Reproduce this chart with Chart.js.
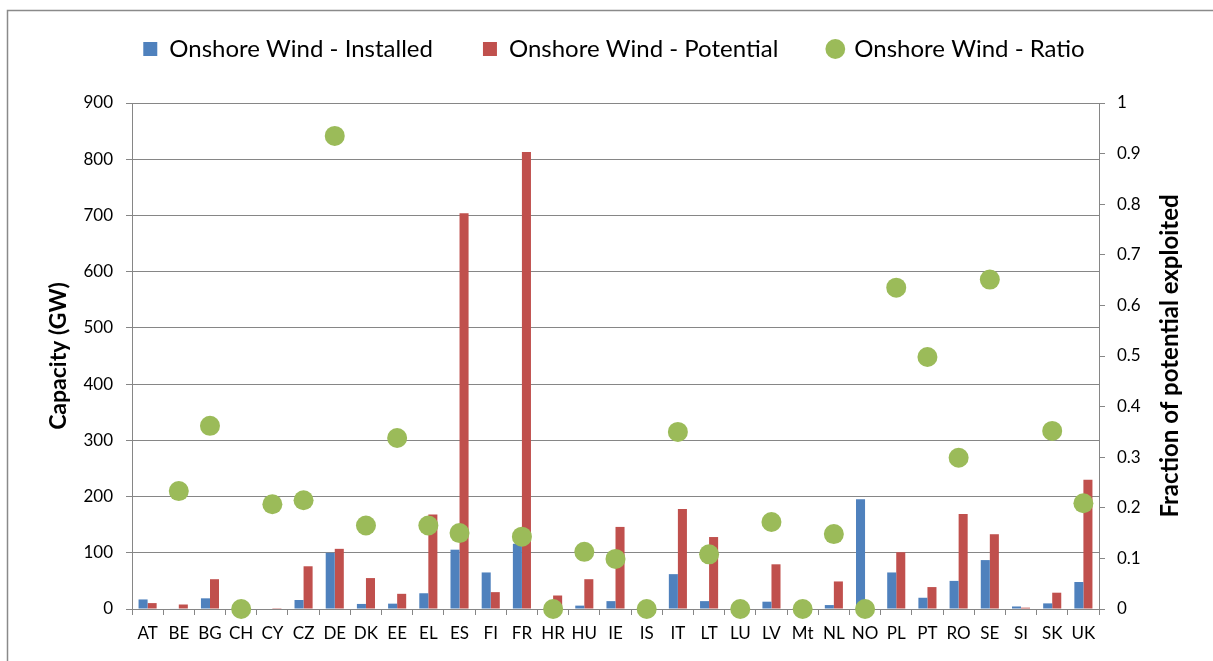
<!DOCTYPE html>
<html>
<head>
<meta charset="utf-8">
<script src="https://cdn.jsdelivr.net/npm/chart.js@4/dist/chart.umd.min.js"></script>
<style>
  html, body { margin: 0; padding: 0; background: #fff; }
  #wrap { width: 1213px; height: 661px; }
</style>
</head>
<body>
<div id="wrap"><canvas id="c" width="1213" height="661"></canvas></div>
<script>
// Country codes along the horizontal axis
const categories = ['AT','BE','BG','CH','CY','CZ','DE','DK','EE','EL','ES','FI','FR','HR','HU','IE','IS','IT','LT','LU','LV','Mt','NL','NO','PL','PT','RO','SE','SI','SK','UK'];

// Installed onshore wind capacity (GW)
const installed = [17, 1, 19, 0, 0, 16, 100, 9, 9.5, 28, 105.5, 65, 116, 0, 6, 14, 0, 62, 14, 0, 13, 0, 7, 195, 65, 20, 50, 87, 4.5, 10, 48];

// Onshore wind potential (GW)
const potential = [10.5, 8, 53, 0, 1.5, 76, 107, 55, 27, 168, 704, 30, 813, 24, 53, 146, 0, 178, 128, 0, 79.5, 0, 49, 0, 101, 39, 169, 133, 2.4, 29, 230];

// Fraction of the potential already exploited (right axis)
const ratio = [null, 0.233, 0.362, 0, 0.207, 0.215, 0.935, 0.165, 0.338, 0.165, 0.150, null, 0.143, 0, 0.113, 0.099, 0, 0.350, 0.108, 0, 0.172, 0, 0.148, 0, 0.635, 0.498, 0.299, 0.651, null, 0.352, 0.209];

// Axis ranges and titles
const capacityRange = [0, 900, 100];
const fractionRange = [0, 1, 0.1];
const capacityTitle = 'Capacity (GW)';
const fractionTitle = 'Fraction of potential exploited';

const FONT = 'Lato, "Open Sans", sans-serif';
const GRID = '#868686';

// White page with the thin frame around the chart
const frame = {
  id: 'frame',
  beforeDraw(chart) {
    const ctx = chart.ctx;
    ctx.save();
    ctx.fillStyle = '#fff';
    ctx.fillRect(0, 0, chart.width, chart.height);
    ctx.strokeStyle = '#8a8a8a';
    ctx.lineWidth = 1.5;
    ctx.beginPath();
    ctx.moveTo(7.5, chart.height);
    ctx.lineTo(7.5, 10.5);
    ctx.lineTo(chart.width, 10.5);
    ctx.stroke();
    ctx.restore();
  }
};

// Right axis title, reading bottom-to-top like the left one
const rightTitle = {
  id: 'rightTitle',
  afterDraw(chart) {
    const s = chart.scales.y1;
    const ctx = chart.ctx;
    ctx.save();
    ctx.translate(s.right - 13, (chart.chartArea.top + chart.chartArea.bottom) / 2);
    ctx.rotate(-Math.PI / 2);
    ctx.fillStyle = '#000';
    ctx.font = 'bold 24px ' + FONT;
    ctx.textAlign = 'center';
    ctx.textBaseline = 'middle';
    ctx.fillText(fractionTitle, 0, 0);
    ctx.restore();
  }
};

// Fixed legend band height so the plot starts at the same place every time
const LEGEND_H = 116;
const legendBand = {
  id: 'legendBand',
  beforeUpdate(chart) {
    const lg = chart.legend;
    if (lg && !lg._bandFixed) {
      const fit = lg.fit;
      lg.fit = function () { fit.call(this); this.height = LEGEND_H; };
      lg._bandFixed = true;
    }
  }
};

new Chart(document.getElementById('c'), {
  data: {
    labels: categories,
    datasets: [
      {
        type: 'bar',
        label: 'Onshore Wind - Installed',
        data: installed,
        backgroundColor: '#4F81BD',
        borderWidth: 0,
        categoryPercentage: 0.58,
        barPercentage: 1,
        pointStyle: 'rect',
        yAxisID: 'y',
        order: 1
      },
      {
        type: 'bar',
        label: 'Onshore Wind - Potential',
        data: potential,
        backgroundColor: '#C0504D',
        borderWidth: 0,
        categoryPercentage: 0.58,
        barPercentage: 1,
        pointStyle: 'rect',
        yAxisID: 'y',
        order: 1
      },
      {
        type: 'line',
        label: 'Onshore Wind - Ratio',
        data: ratio,
        showLine: false,
        pointStyle: 'circle',
        pointRadius: 10,
        pointHoverRadius: 10,
        pointBorderWidth: 0,
        backgroundColor: '#9BBB59',
        borderColor: '#9BBB59',
        yAxisID: 'y1',
        clip: false,
        order: 0
      }
    ]
  },
  options: {
    responsive: false,
    animation: false,
    devicePixelRatio: 1,
    layout: { padding: { left: 45, right: 30, top: -13, bottom: 12 } },
    plugins: {
      tooltip: { enabled: false },
      legend: {
        position: 'top',
        labels: {
          usePointStyle: true,
          boxWidth: 14,
          boxHeight: 14,
          padding: 50,
          color: '#000',
          font: { family: FONT, size: 24 },
          sort: (a, b) => a.datasetIndex - b.datasetIndex
        }
      }
    },
    scales: {
      x: {
        type: 'category',
        offset: true,
        grid: { offset: true, drawOnChartArea: false, tickLength: 6, color: GRID },
        border: { color: GRID, width: 1 },
        ticks: { color: '#000', font: { family: FONT, size: 17 }, padding: 8, maxRotation: 0, autoSkip: false },
        afterFit(s) { s.height = 40; }
      },
      y: {
        position: 'left',
        min: capacityRange[0],
        max: capacityRange[1],
        ticks: { stepSize: capacityRange[2], color: '#000', font: { family: FONT, size: 17 }, padding: 13 },
        grid: { color: GRID, tickLength: 6 },
        border: { color: GRID, width: 1 },
        title: { display: true, text: capacityTitle, color: '#000', font: { family: FONT, size: 23, weight: 'bold' }, padding: 0 },
        afterFit(s) { s.width = 87; }
      },
      y1: {
        position: 'right',
        min: fractionRange[0],
        max: fractionRange[1],
        ticks: {
          stepSize: fractionRange[2],
          color: '#000',
          font: { family: FONT, size: 17 },
          padding: 12,
          callback: v => String(Math.round(v * 10) / 10)
        },
        grid: { drawOnChartArea: false, color: GRID, tickLength: 6 },
        border: { color: GRID, width: 1 },
        afterFit(s) { s.width = 84; }
      }
    }
  },
  plugins: [frame, rightTitle, legendBand]
});
</script>
</body>
</html>
